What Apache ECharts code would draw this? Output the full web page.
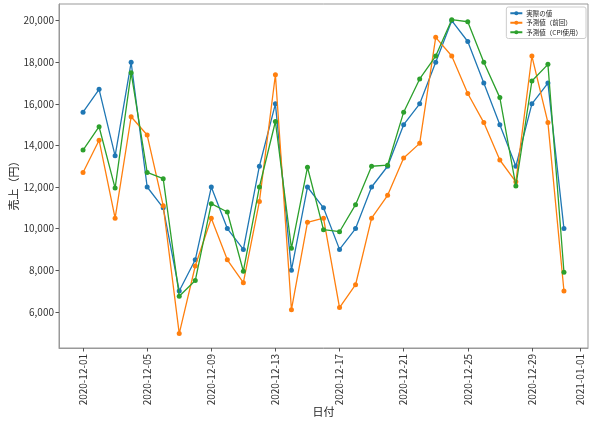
<!DOCTYPE html>
<html><head><meta charset="utf-8">
<script src="https://cdn.jsdelivr.net/npm/echarts@6/dist/echarts.min.js"></script>
<style>html,body{margin:0;padding:0;background:#fff}#c{width:602px;height:429px}</style>
</head><body><div id="c"></div>
<script>
const dates = ['2020-12-01','2020-12-02','2020-12-03','2020-12-04','2020-12-05','2020-12-06','2020-12-07','2020-12-08','2020-12-09','2020-12-10','2020-12-11','2020-12-12','2020-12-13','2020-12-14','2020-12-15','2020-12-16','2020-12-17','2020-12-18','2020-12-19','2020-12-20','2020-12-21','2020-12-22','2020-12-23','2020-12-24','2020-12-25','2020-12-26','2020-12-27','2020-12-28','2020-12-29','2020-12-30','2020-12-31'];
const actual = [15600,16700,13500,18000,12000,11000,7000,8500,12000,10000,9000,13000,16000,8000,12000,11000,9000,10000,12000,13000,15000,16000,18000,20000,19000,17000,15000,13000,16000,17000,10000];
const predPrev = [12700,14250,10500,15380,14500,11100,4950,8200,10500,8500,7400,11300,17400,6100,10300,10500,6200,7300,10500,11600,13400,14100,19200,18300,16500,15100,13300,12250,18300,15100,7000];
const predCPI = [13780,14900,11950,17500,12700,12400,6750,7500,11200,10800,7950,12000,15150,9050,12950,9950,9850,11150,13000,13050,15600,17200,18300,20050,19950,18000,16300,12050,17100,17900,7900];
const xTickDates = ['2020-12-01','2020-12-05','2020-12-09','2020-12-13','2020-12-17','2020-12-21','2020-12-25','2020-12-29','2021-01-01'];
const yTicks = [6000,8000,10000,12000,14000,16000,18000,20000];
const seriesNames = ['実際の値','予測値（前回）','予測値（CPI使用）'];

function ts(s){const p=s.split('-').map(Number);return Date.UTC(p[0],p[1]-1,p[2]);}
function fmt(v){const d=new Date(v);const p=n=>String(n).padStart(2,'0');return d.getUTCFullYear()+'-'+p(d.getUTCMonth()+1)+'-'+p(d.getUTCDate());}
const DAY = 86400000;
const xMin = ts(dates[0]) - 1.5*DAY, xMax = ts(dates[dates.length-1]) + 1.5*DAY;
const xTicks = xTickDates.map(ts);
const font = '"Noto Sans CJK JP", "DejaVu Sans", sans-serif';
const colors = ['#1f77b4','#ff7f0e','#2ca02c'];
function mk(name, vals, i){
  return {name:name, type:'line', data:dates.map((d,k)=>[ts(d), vals[k]]),
    symbol:'circle', symbolSize:5, showSymbol:true,
    lineStyle:{width:1.3,color:colors[i]}, itemStyle:{color:colors[i]}, z:2+i, animation:false};
}
const chart = echarts.init(document.getElementById('c'), null, {renderer:'canvas'});
chart.setOption({
  animation:false,
  color:colors,
  grid:{left:59,right:14,top:4,bottom:81,show:true,borderColor:'#999',borderWidth:1,containLabel:false,outerBoundsMode:'none'},
  legend:{orient:'vertical',right:16,top:7,padding:[3,4,3,3],itemGap:3,itemWidth:12,itemHeight:5,
    borderColor:'#ccc',borderWidth:1,borderRadius:2,backgroundColor:'#fff',
    textStyle:{fontSize:6.5,fontFamily:font,color:'#222',padding:[0,0,0,-1]},data:seriesNames},
  xAxis:{type:'value',min:xMin,max:xMax,name:'日付',nameLocation:'middle',nameGap:58,nameMoveOverlap:false,
    nameTextStyle:{fontSize:11,fontFamily:font,color:'#222'},
    axisLine:{show:true,lineStyle:{color:'#999'}},
    axisTick:{show:true,length:3.5,lineStyle:{color:'#555'},customValues:xTicks},
    axisLabel:{rotate:90,fontSize:10,fontFamily:font,color:'#333',margin:6,customValues:xTicks,formatter:fmt},
    splitLine:{show:false}},
  yAxis:{type:'value',min:4257,max:20803,name:'売上（円）',nameLocation:'middle',nameGap:40,nameMoveOverlap:false,
    nameTextStyle:{fontSize:11,fontFamily:font,color:'#222',padding:[0,14,0,0]},
    axisLine:{show:true,lineStyle:{color:'#999'}},
    axisTick:{show:true,length:3.5,lineStyle:{color:'#555'},customValues:yTicks},
    axisLabel:{fontSize:10,fontFamily:font,color:'#333',margin:5,customValues:yTicks,
      formatter:function(v){return v.toLocaleString('en-US');}},
    splitLine:{show:false}},
  series:[mk(seriesNames[0],actual,0),mk(seriesNames[1],predPrev,1),mk(seriesNames[2],predCPI,2)]
});
</script></body></html>
